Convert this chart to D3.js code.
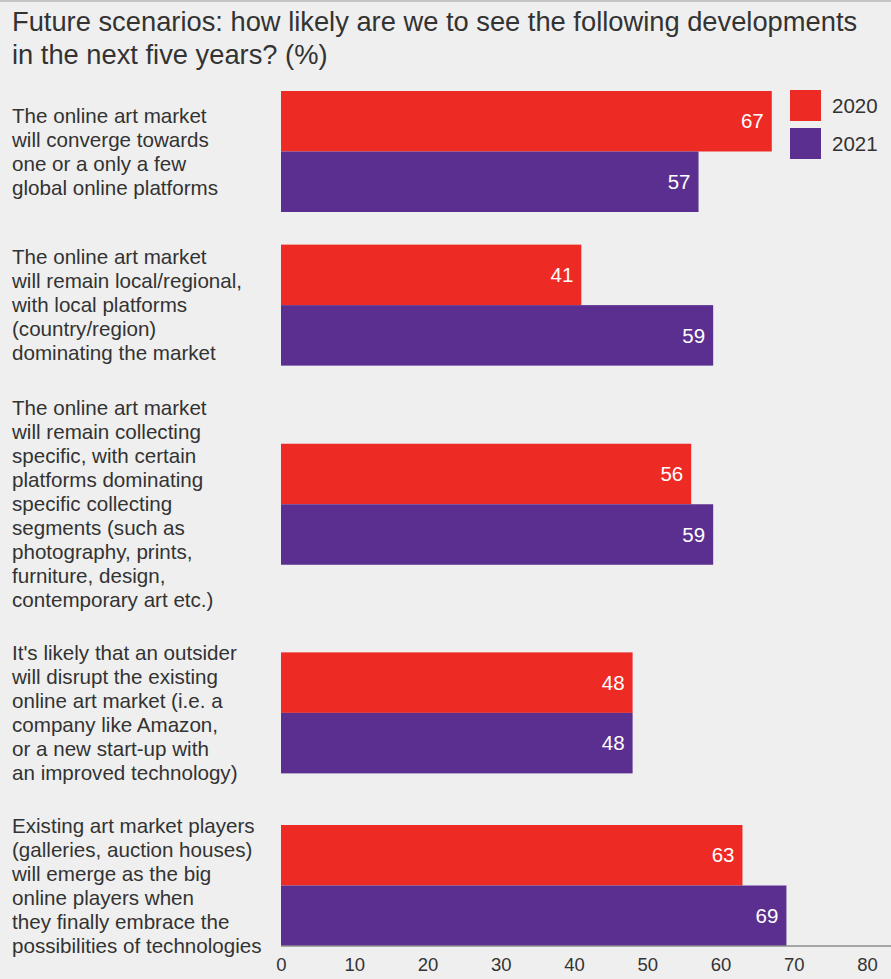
<!DOCTYPE html>
<html>
<head>
<meta charset="utf-8">
<script src="https://cdn.jsdelivr.net/npm/d3@7"></script>
<style>
  html, body { margin: 0; padding: 0; background: #efefef; }
  svg { display: block; }
  text { font-family: "Liberation Sans", Arial, Helvetica, sans-serif; }
</style>
</head>
<body>
<svg id="chart"></svg>
<script>
// Survey answers, one entry per scenario
const scenarios = [
  ["The online art market", "will converge towards", "one or a only a few", "global online platforms"],
  ["The online art market", "will remain local/regional,", "with local platforms", "(country/region)", "dominating the market"],
  ["The online art market", "will remain collecting", "specific, with certain", "platforms dominating", "specific collecting", "segments (such as", "photography, prints,", "furniture, design,", "contemporary art etc.)"],
  ["It's likely that an outsider", "will disrupt the existing", "online art market (i.e. a", "company like Amazon,", "or a new start-up with", "an improved technology)"],
  ["Existing art market players", "(galleries, auction houses)", "will emerge as the big", "online players when", "they finally embrace the", "possibilities of technologies"]
];
const years = ["2020", "2021"];
const values2020 = [67, 41, 56, 48, 63];
const values2021 = [57, 59, 59, 48, 69];
const xTicks = [0, 10, 20, 30, 40, 50, 60, 70, 80];
const titleLines = [
  "Future scenarios: how likely are we to see the following developments",
  "in the next five years? (%)"
];

const W = 891, H = 979;
const colors = { "2020": "#ee2a24", "2021": "#5b2f8f" };
const textColor = "#333333";

const svg = d3.select("#chart").attr("width", W).attr("height", H);
svg.append("rect").attr("width", W).attr("height", H).attr("fill", "#efefef");
svg.append("line").attr("x1", 0).attr("x2", W).attr("y1", 1).attr("y2", 1)
  .attr("stroke", "#c4c4c4").attr("stroke-width", 2);

// Title
svg.append("text")
  .attr("x", 12).attr("y", 31)
  .attr("font-size", 27.3).attr("fill", textColor)
  .selectAll("tspan").data(titleLines).join("tspan")
  .attr("x", 12).attr("dy", (d, i) => i === 0 ? 0 : 33)
  .text(d => d);

// Horizontal scale
const plotLeft = 281, plotTop = 91, axisY = 946;
const x = d3.scaleLinear().domain([0, 80]).range([plotLeft, 867]);

// Vertical layout: each group is as tall as its bars or its label, whichever is larger
const barH = 60.5, lineH = 24;
const rows = scenarios.map((lines, i) => ({
  lines, v: { "2020": values2020[i], "2021": values2021[i] },
  h: Math.max(2 * barH, (lines.length - 1) * lineH + 20)
}));
let span = 0;
for (let i = 1; i < rows.length; i++) span += (rows[i - 1].h + rows[i].h) / 2;
const firstCenter = plotTop + rows[0].h / 2;
const lastCenter = axisY - barH;
const gap = (lastCenter - firstCenter - span) / (rows.length - 1);
let c = firstCenter;
rows.forEach((r, i) => {
  if (i > 0) c += (rows[i - 1].h + r.h) / 2 + gap;
  r.center = c;
});

const sub = d3.scaleBand().domain(years).range([-barH, barH]).padding(0);

const groups = svg.append("g").selectAll("g").data(rows).join("g")
  .attr("transform", d => `translate(0,${d.center})`);

// Category labels, centred on their pair of bars
groups.append("text")
  .attr("font-size", 20.6).attr("fill", textColor)
  .attr("y", d => -((d.lines.length - 1) * lineH) / 2 + 7)
  .selectAll("tspan").data(d => d.lines).join("tspan")
  .attr("x", 12).attr("dy", (d, i) => i === 0 ? 0 : lineH)
  .text(d => d);

years.forEach(yr => {
  groups.append("rect")
    .attr("x", x(0))
    .attr("y", sub(yr))
    .attr("width", d => x(d.v[yr]) - x(0))
    .attr("height", sub.bandwidth())
    .attr("fill", colors[yr]);
  groups.append("text")
    .attr("x", d => x(d.v[yr]) - 8)
    .attr("y", sub(yr) + sub.bandwidth() / 2)
    .attr("dy", "0.35em")
    .attr("text-anchor", "end")
    .attr("font-size", 20.5).attr("fill", "#ffffff")
    .text(d => d.v[yr]);
});

// Axis
const axis = svg.append("g").attr("transform", `translate(0,${axisY})`)
  .call(d3.axisBottom(x).tickValues(xTicks).tickSize(0).tickPadding(12));
axis.select(".domain").remove();
axis.selectAll("text").attr("font-size", 18.5).attr("fill", textColor)
  .attr("font-family", "\"Liberation Sans\", Arial, sans-serif");
svg.append("line")
  .attr("x1", x(0)).attr("x2", W).attr("y1", axisY).attr("y2", axisY)
  .attr("stroke", "#8c8c8c").attr("stroke-width", 1.5);

// Legend
const legend = svg.append("g").selectAll("g").data(years).join("g")
  .attr("transform", (d, i) => `translate(790,${90 + i * 38})`);
legend.append("rect").attr("width", 31).attr("height", 31).attr("fill", d => colors[d]);
legend.append("text").attr("x", 42).attr("y", 15.5).attr("dy", "0.35em")
  .attr("font-size", 20.5).attr("fill", textColor).text(d => d);
</script>
</body>
</html>
